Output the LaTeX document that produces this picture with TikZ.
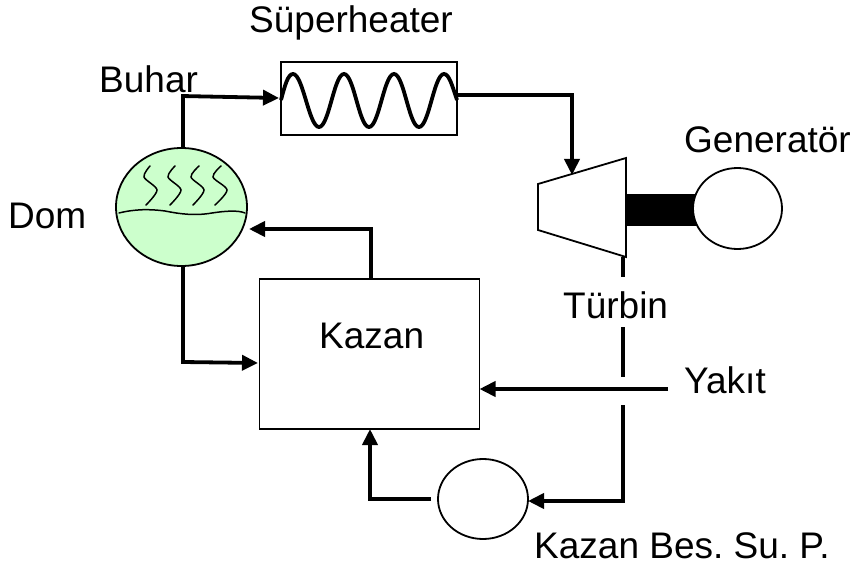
\documentclass[tikz,border=0pt]{standalone}
\usepackage{fontspec}
\setmainfont{Liberation Sans}
\usetikzlibrary{arrows.meta,calc,shapes.geometric}
\definecolor{drumgreen}{RGB}{204,255,204}
\tikzset{
  thin box/.style={draw=black,line width=1.8pt,inner sep=0pt,outer sep=0pt},
  round part/.style={thin box,ellipse,fill=white},
  flow/.style={line width=3.8pt,line join=miter,-{Triangle[length=16pt,width=15pt]}},
  plain flow/.style={line width=3.8pt,line join=miter},
  lbl/.style={inner sep=0pt,font=\fontsize{37}{37}\selectfont,anchor=base west},
  fine/.style={line width=1.5pt,line cap=round}
}
\begin{document}
\frenchspacing
\begin{tikzpicture}[x=1pt,y=-1pt]
\useasboundingbox (0,0) rectangle (854,567);
% nodes
\node[thin box,minimum width=176pt,minimum height=73pt] (sh) at (369,98.5) {};
\node[thin box,minimum width=220pt,minimum height=150pt] (kazan) at (369.5,354) {};
\node[round part,fill=drumgreen,minimum width=131pt,minimum height=118pt] (drum) at (181.5,207) {};
% coil
\draw[line width=3.8pt] (sh.west |- 0,100)
  .. controls (285,85) and (288,74) .. (293,74)
  .. controls (303,74) and (309,127) .. (319,127)
  .. controls (329,127) and (334,74) .. (344,74)
  .. controls (354,74) and (359,127) .. (369,127)
  .. controls (379,127) and (384,74) .. (394,74)
  .. controls (404,74) and (409,127) .. (419,127)
  .. controls (429,127) and (434,74) .. (444,74)
  .. controls (449,74) and (452,85) .. (457,100);
% drum interior
\draw[fine] (119,213) .. controls (135,209) and (150,209) .. (165,211)
  .. controls (180,214) and (195,216) .. (212,213)
  .. controls (225,211) and (238,210) .. (245,213);
\foreach \a/\b/\c/\d in {150/144/157/146, 175/168/181/170, 199/191/204/193, 221/213/227/215}{
  \draw[fine] plot[smooth,tension=0.5] coordinates {(\a,166) (\b,177) (\c,190) (\d,205)};
}
% turbine
\coordinate (t1) at (538,184);
\coordinate (t2) at (626,158);
\coordinate (t3) at (626,257);
\coordinate (t4) at (538,230);
\fill[black] (626,194) rectangle (700,226);
\node[round part,minimum width=89pt,minimum height=81pt] (gen) at (737.5,208.5) {};
\node[round part,minimum width=90pt,minimum height=80pt] (pump) at (483,499) {};
\draw[thin box,fill=white,line join=miter] (t1) -- (t2) -- (t3) -- (t4) -- cycle;
% connectors
\coordinate (buharc) at (183,96);
\coordinate (b1) at (183,362);
\coordinate (r1) at (371,229);
\coordinate (s1) at (572,95);
\coordinate (tin) at (572,175);
\coordinate (dl1) at (623,277);
\coordinate (dl2) at (623,327);
\coordinate (dl3) at (623,377);
\coordinate (dl4) at (623,405);
\coordinate (dl5) at (623,501);
\coordinate (yak) at (668,389);
\coordinate (pl) at (431,499);
\draw[plain flow] (drum.north -| buharc) -- (buharc);
\draw[flow] ($(buharc)+(-1.9,0)$) -- (279,98);
\draw[flow] (457,95) -- (s1) -- (tin);
\draw[flow] (drum.south -| b1) -- (b1) -- (258,363);
\draw[flow] (kazan.north -| r1) -- (r1) -- (249,229);
\draw[plain flow] (t3 -| dl1) -- (dl1);
\draw[plain flow] (dl2) -- (dl3);
\draw[flow] (dl4) -- (dl5) -- (pump.east |- dl5);
\draw[flow] (yak) -- (kazan.east |- yak);
\draw[flow] (pl) -- (370,499) -- (370,429);
% labels
\node[lbl] (ls) at (249,33) {Süperheater};
\node[lbl] (lb) at (99,93) {Buhar};
\node[lbl] (ld) at (8,228) {Dom};
\node[lbl] (lk) at (319,348) {Kazan};
\node[lbl] (lg) at (684,153) {Generatör};
\node[lbl] (lt) at (563,318) {Türbin};
\node[lbl] (ly) at (684,393) {Yakıt};
\node[lbl] (lp) at (534,558) {Kazan Bes. Su. P.};
\end{tikzpicture}
\end{document}
